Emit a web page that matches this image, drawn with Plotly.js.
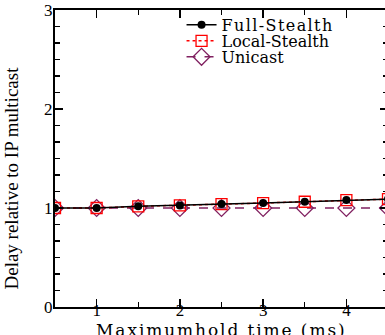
<!DOCTYPE html>
<html><head><meta charset="utf-8">
<script src="https://cdn.plot.ly/plotly-3.0.1.min.js"></script>
<style>html,body{margin:0;padding:0;overflow:hidden;background:#fff}#chart{width:390px;height:335px}
.legendtext{letter-spacing:1.4px}
g.annotation[data-index="0"] text{letter-spacing:1.9px}
</style>
</head><body><div id="chart"></div>
<script>
const holdTime = [0.5, 1, 1.5, 2, 2.5, 3, 3.5, 4, 4.5];
const fullStealth = [1.0, 1.0, 1.017, 1.026, 1.04, 1.05, 1.063, 1.08, 1.09];
const localStealth = [1.0, 1.0, 1.017, 1.026, 1.04, 1.05, 1.063, 1.08, 1.09];
const unicast = [1.0, 1.0, 1.0, 1.0, 1.0, 1.0, 1.0, 1.0, 1.0];
const seriesNames = ['Full-Stealth', 'Local-Stealth', 'Unicast'];

const serif = 'Liberation Serif, Times New Roman, serif';
const legFont = {family: 'DejaVu Serif, serif', size: 16, color: '#000'};
const traces = [
  {x: holdTime, y: unicast, name: seriesNames[2], mode: 'lines+markers', legend: 'legend3',
   line: {color: '#802060', width: 1.5, dash: 'dash'},
   marker: {symbol: 'diamond-open', size: 13, color: '#802060', line: {width: 1.3}}},
  {x: holdTime, y: localStealth, name: seriesNames[1], mode: 'lines+markers', legend: 'legend2',
   line: {color: '#ff0000', width: 1.5, dash: 'dot'},
   marker: {symbol: 'square-open', size: 11, color: '#ff0000', line: {width: 1.3}}},
  {x: holdTime, y: fullStealth, name: seriesNames[0], mode: 'lines+markers', legend: 'legend',
   line: {color: '#000000', width: 1.5},
   marker: {symbol: 'circle', size: 8, color: '#000000'}}
];
const axisCommon = {showgrid: false, zeroline: false, showline: true, linecolor: '#000', linewidth: 2,
  mirror: 'allticks', ticks: 'inside', ticklen: 8, tickwidth: 1.5, tickcolor: '#000',
  tickfont: {family: serif, size: 17, color: '#000'}};
const legBase = {x: 0.38, xanchor: 'left', yanchor: 'middle', bgcolor: 'rgba(0,0,0,0)', font: legFont};
const layout = {
  width: 390, height: 335,
  margin: {l: 55, r: 2, t: 10, b: 28},
  paper_bgcolor: '#fff', plot_bgcolor: '#fff',
  showlegend: true,
  legend: Object.assign({}, legBase, {y: 0.95}),
  legend2: Object.assign({}, legBase, {y: 0.896}),
  legend3: Object.assign({}, legBase, {y: 0.842}),
  xaxis: Object.assign({}, axisCommon, {range: [0.5, 4.5], tickvals: [1, 2, 3, 4], ticklabelstandoff: -13,
    minor: {dtick: 0.5, tick0: 0.5, ticks: 'inside', ticklen: 5, tickwidth: 1.2, tickcolor: '#000'}}),
  yaxis: Object.assign({}, axisCommon, {range: [0, 3], tickvals: [0, 1, 2, 3], ticklabelstandoff: -3,
    minor: {dtick: 1/6, tick0: 0, ticks: 'inside', ticklen: 5, tickwidth: 1.2, tickcolor: '#000'}}),
  annotations: [
    {text: 'Maximumhold time (ms)', xref: 'paper', yref: 'paper', x: 0.5, y: -0.076,
     xanchor: 'center', yanchor: 'middle', showarrow: false,
     font: {family: 'DejaVu Serif, serif', size: 17, color: '#000'}},
    {text: 'Delay relative to IP multicast', xref: 'paper', yref: 'paper', x: -0.13, y: 0.435,
     xanchor: 'center', yanchor: 'middle', textangle: -90, showarrow: false,
     font: {family: serif, size: 19, color: '#000'}}
  ]
};
Plotly.newPlot('chart', traces, layout, {displayModeBar: false, staticPlot: true});
</script></body></html>
